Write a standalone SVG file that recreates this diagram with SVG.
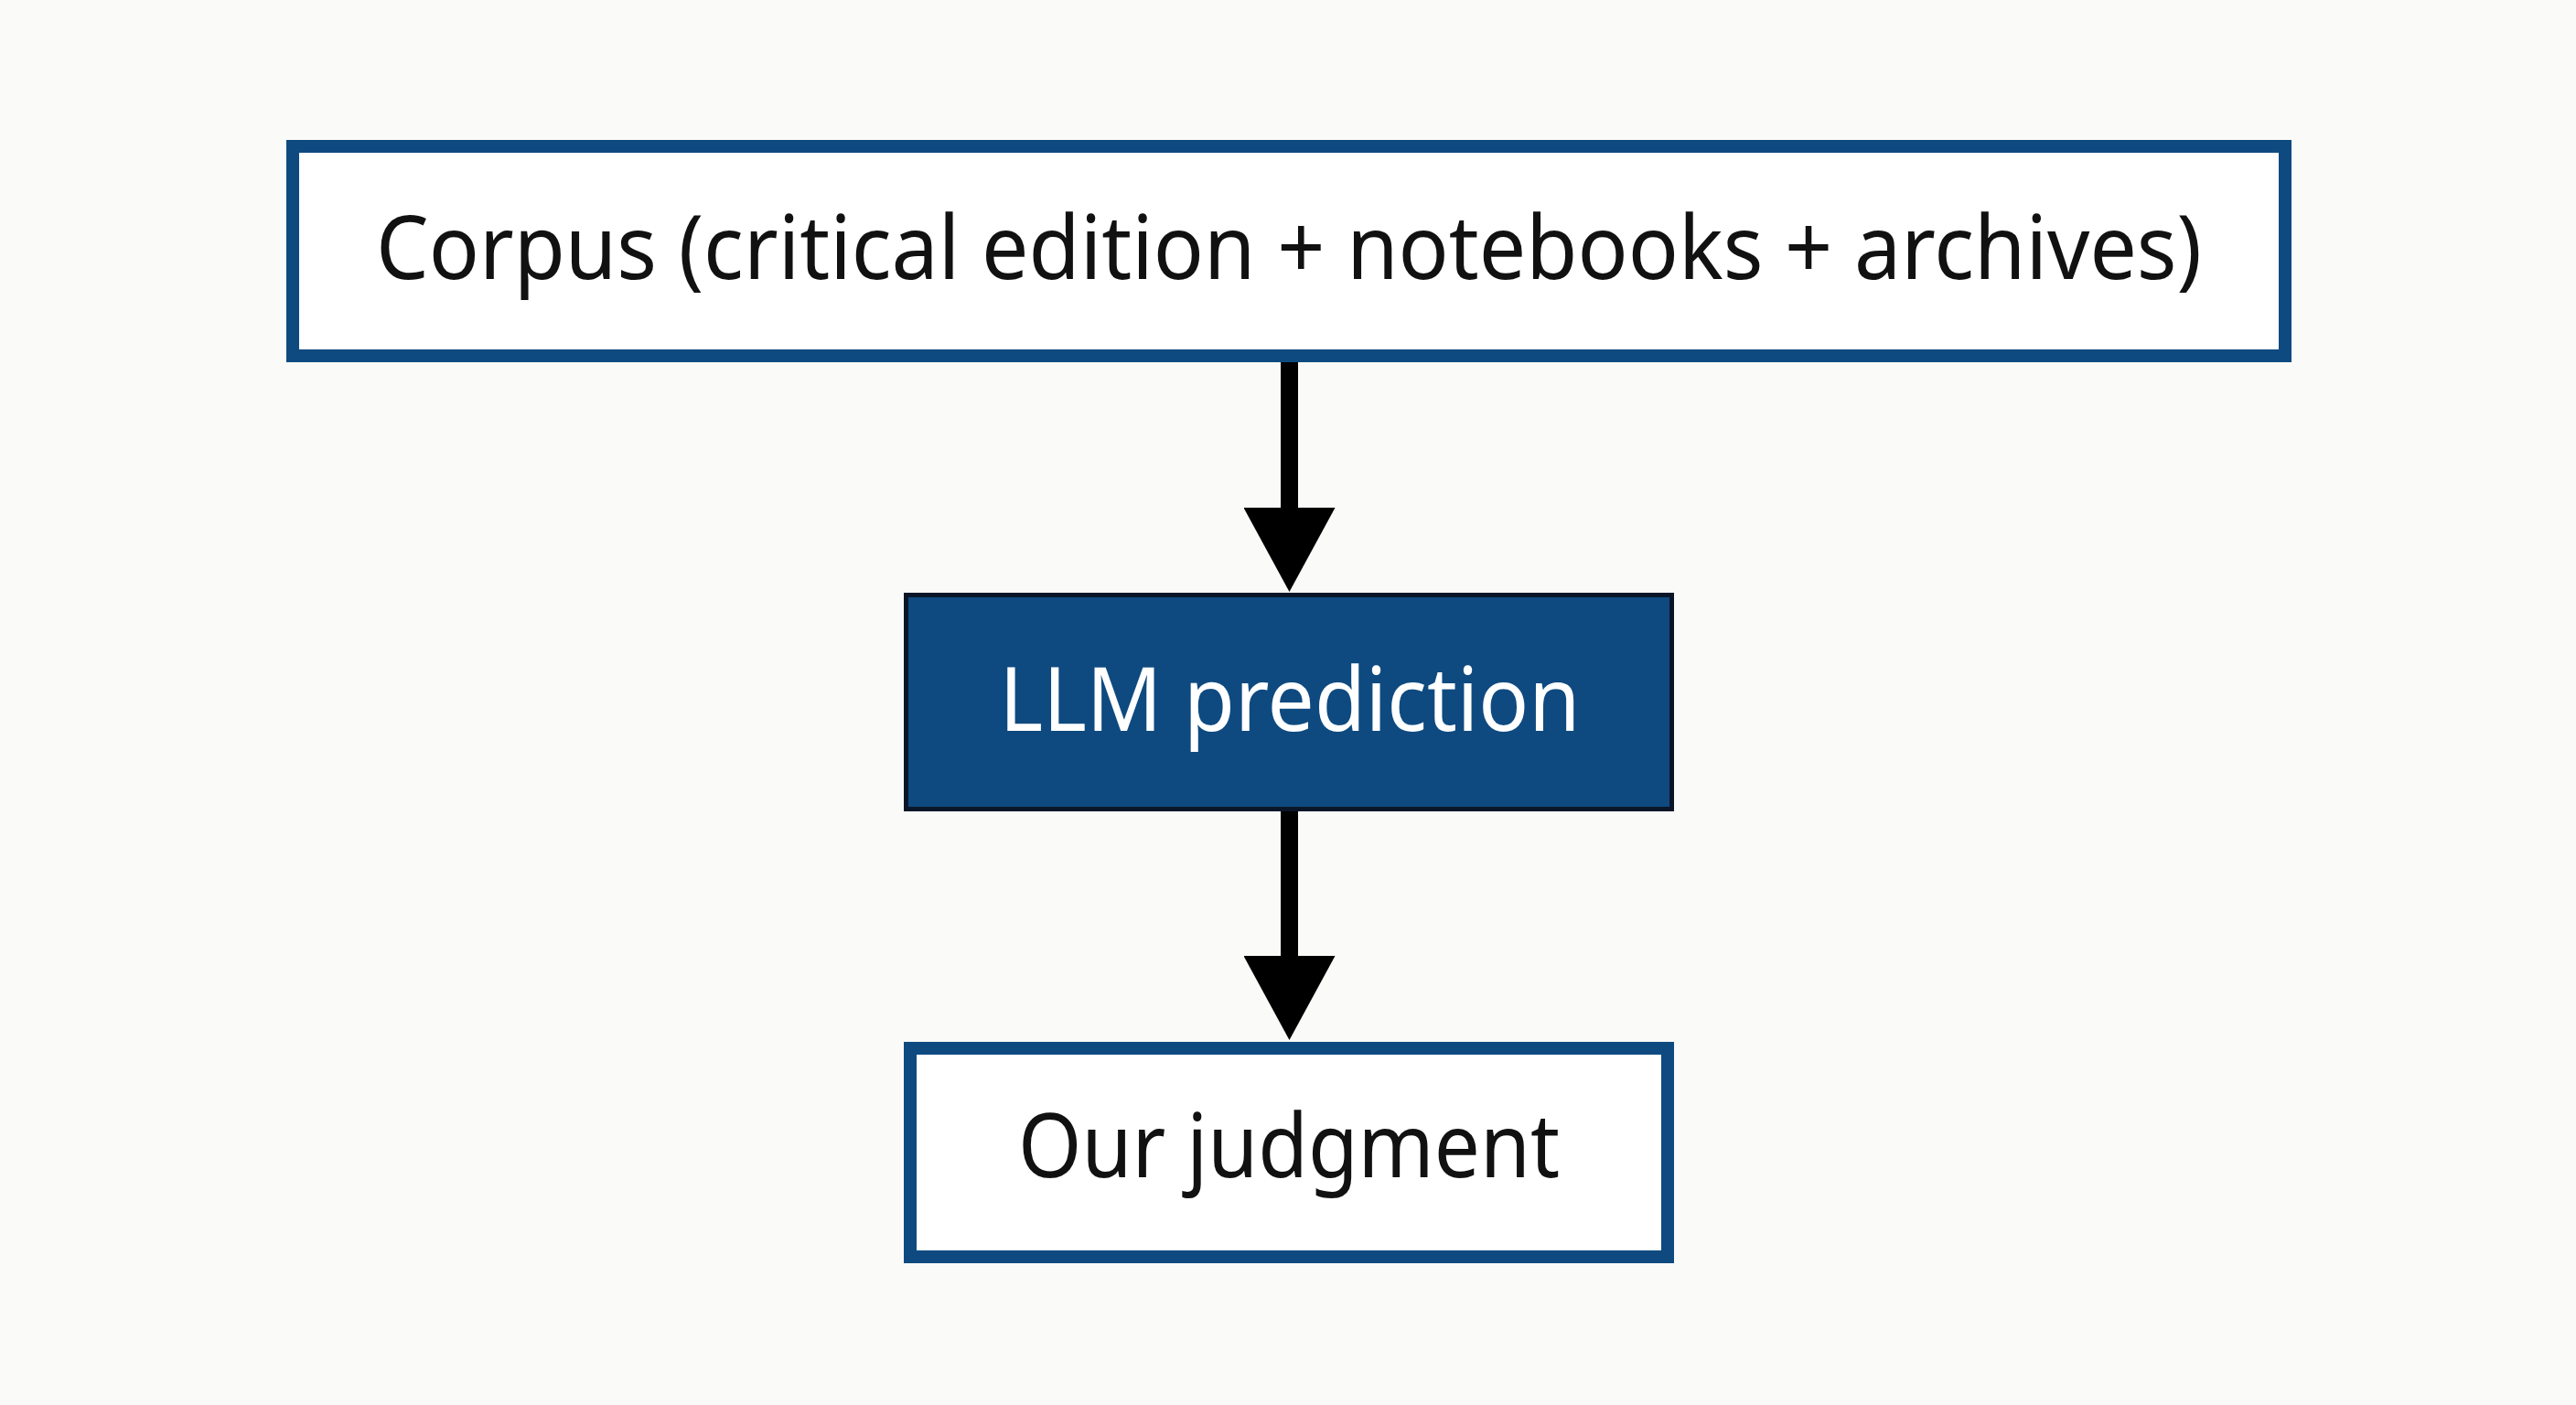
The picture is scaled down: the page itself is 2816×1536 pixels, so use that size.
<svg xmlns="http://www.w3.org/2000/svg" width="2816" height="1536" viewBox="0 0 2816 1536">
<style>
.lbl{font-family:"Noto Sans","Liberation Sans",sans-serif;font-size:96px;text-anchor:middle}
.outline{fill:#ffffff;stroke:#0e4a80;stroke-width:14}
.conn{stroke:#000;stroke-width:19;fill:none}
</style>
<defs>
<marker id="ah" markerUnits="userSpaceOnUse" markerWidth="100" markerHeight="100" refX="3" refY="50" orient="auto" viewBox="0 0 92 100">
<path d="M0,0 L92,50 L0,100 Z" fill="#000"/>
</marker>
</defs>
<rect width="2816" height="1536" fill="#fafaf8"/>
<g id="connectors">
<line class="conn" x1="1409.5" y1="396" x2="1409.5" y2="558" marker-end="url(#ah)"/>
<line class="conn" x1="1409.5" y1="887" x2="1409.5" y2="1048" marker-end="url(#ah)"/>
</g>
<g id="corpus">
<rect class="outline" x="320" y="160" width="2178" height="229"/>
<text class="lbl" x="1409" y="305" fill="#111" textLength="1996" lengthAdjust="spacingAndGlyphs">Corpus (critical edition + notebooks + archives)</text>
</g>
<g id="llm">
<rect x="990.5" y="650.5" width="837" height="234" fill="#0e4a80" stroke="#0a1628" stroke-width="5"/>
<text class="lbl" x="1410" y="799" fill="#ffffff" textLength="635" lengthAdjust="spacingAndGlyphs">LLM prediction</text>
</g>
<g id="judgment">
<rect class="outline" x="995" y="1146" width="828" height="228"/>
<text class="lbl" x="1409" y="1287" fill="#111" textLength="592" lengthAdjust="spacingAndGlyphs">Our judgment</text>
</g>
</svg>
